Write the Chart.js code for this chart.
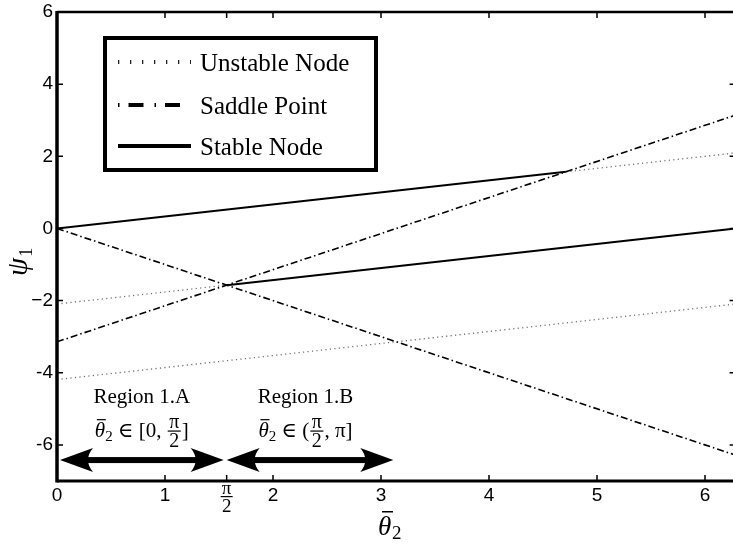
<!DOCTYPE html>
<html>
<head>
<meta charset="utf-8">
<script src="https://cdn.jsdelivr.net/npm/chart.js@4.4.1/dist/chart.umd.min.js"></script>
<style>
  html, body { margin: 0; padding: 0; background: #fff; overflow: hidden; width: 733px; height: 544px; }
  #wrap { width: 737px; height: 544px; }
</style>
</head>
<body>
<div id="wrap"><canvas id="chart" width="737" height="544"></canvas></div>
<script>
const X_MIN = 0, X_MAX = 6.2832, Y_MIN = -7, Y_MAX = 6;
const xTicks = [0, 1, 2, 3, 4, 5, 6];
const xTickLabels = ['0', '1', '2', '3', '4', '5', '6'];
const piHalfTick = 1.5708;
const yTicks = [-6, -4, -2, 0, 2, 4, 6];
const yTickLabels = ['-6', '-4', '\u22122', '0', '2', '4', '6'];

// stable node branches
const stableA = [[0, 0], [4.712, 1.571]];
const stableB = [[1.571, -1.571], [6.283, 0]];
// saddle point branches
const saddleA = [[0, -3.142], [6.283, 3.142]];
const saddleB = [[0, 0], [6.283, -6.283]];
// unstable node branches
const unstableA = [[0, -2.094], [1.571, -1.571]];
const unstableB = [[4.712, 1.571], [6.283, 2.094]];
const unstableC = [[0, -4.189], [6.283, -2.094]];

const regionNames = ['Region 1.A', 'Region 1.B'];
const regionStart = [0, 1.5708];
const regionEnd = [1.5708, 3.1416];
const arrowLevel = -6.42;

const SERIF = '"Liberation Serif", "DejaVu Serif", serif';
const SANS = '"Liberation Sans", Arial, sans-serif';

const solidStyle = { borderColor: '#000', borderWidth: 2 };
const saddleStyle = { borderColor: '#000', borderWidth: 1.6, borderDash: [7, 3, 1.5, 3] };
const unstableStyle = { borderColor: '#6e6e6e', borderWidth: 1.3, borderDash: [1.2, 3.3] };

function seg(points, style) {
  return Object.assign({
    data: points.map(p => ({ x: p[0], y: p[1] })),
    showLine: true, pointRadius: 0, fill: false, tension: 0,
  }, style);
}

function partWidth(ctx, p) {
  ctx.font = p.font;
  if (p.frac) return Math.max(ctx.measureText(p.frac[0]).width, ctx.measureText(p.frac[1]).width) + 5;
  return ctx.measureText(p.t).width;
}

function drawRun(ctx, parts, cx, base) {
  let total = 0;
  parts.forEach(p => { total += partWidth(ctx, p); });
  let x = cx - total / 2;
  ctx.textBaseline = 'alphabetic';
  parts.forEach(p => {
    const w = partWidth(ctx, p);
    ctx.font = p.font;
    if (p.frac) {
      const mid = x + w / 2;
      const axis = base - 6;
      ctx.textAlign = 'center';
      ctx.fillText(p.frac[0], mid, axis - 3);
      ctx.fillText(p.frac[1], mid, axis + 16);
      ctx.fillRect(x + 1, axis - 0.6, w - 2, 1.2);
    } else {
      ctx.textAlign = 'left';
      ctx.fillText(p.t, x, base + (p.dy || 0));
      if (p.bar) ctx.fillRect(x + p.bar[0], base - p.bar[1], p.bar[2], 1.2);
    }
    x += w;
  });
}

function arrowHead(ctx, tipX, y, dir) {
  const L = 33, H = 12, notch = 10;
  ctx.beginPath();
  ctx.moveTo(tipX, y);
  ctx.lineTo(tipX - dir * L, y - H);
  ctx.quadraticCurveTo(tipX - dir * (L - notch), y, tipX - dir * L, y + H);
  ctx.closePath();
  ctx.fill();
}

const decor = {
  id: 'decor',
  afterDraw(chart) {
    const { ctx, chartArea: a, scales: { x, y } } = chart;
    ctx.save();
    ctx.fillStyle = '#000';
    ctx.strokeStyle = '#000';

    // region arrows
    const ay = y.getPixelForValue(arrowLevel);
    regionStart.forEach((s, i) => {
      const x0 = x.getPixelForValue(s) + (i === 0 ? 3 : 0);
      const x1 = x.getPixelForValue(regionEnd[i]) - 3;
      ctx.fillRect(x0 + 24, ay - 3, x1 - x0 - 48, 6);
      arrowHead(ctx, x0, ay, -1);
      arrowHead(ctx, x1, ay, 1);
    });

    // region labels
    regionNames.forEach((name, i) => {
      const cx = (x.getPixelForValue(regionStart[i]) + x.getPixelForValue(regionEnd[i])) / 2 - (i === 1 ? 6 : 0);
      ctx.font = `21px ${SERIF}`;
      ctx.textAlign = 'center';
      ctx.textBaseline = 'alphabetic';
      ctx.fillText(name, cx, ay - 57);
      const base = ay - 23;
      const f = `21px ${SERIF}`;
      const parts = [
        { t: '\u03b8', font: `italic 21px ${SERIF}`, bar: [2, 18, 9] },
        { t: '2', font: `15px ${SERIF}`, dy: 4 },
        { t: ' \u2208 ' + (i === 0 ? '[0, ' : '('), font: f },
        { frac: ['\u03c0', '2'], font: `20px ${SERIF}` },
        { t: i === 0 ? ']' : ', \u03c0]', font: f },
      ];
      drawRun(ctx, parts, cx, base);
    });

    // legend
    const lx = 105, ly = 38, lw = 271, lh = 132;
    ctx.fillStyle = '#fff';
    ctx.fillRect(lx, ly, lw, lh);
    ctx.lineWidth = 4;
    ctx.strokeRect(lx, ly, lw, lh);
    ctx.fillStyle = '#000';
    const rows = [
      { label: 'Unstable Node', y: 62, width: 4, dash: [1.3, 10.7], color: '#222' },
      { label: 'Saddle Point', y: 105, width: 4, dash: [1.5, 9, 15, 11], color: '#000' },
      { label: 'Stable Node', y: 146, width: 4, dash: [], color: '#000' },
    ];
    rows.forEach(r => {
      ctx.beginPath();
      ctx.lineWidth = r.width;
      ctx.strokeStyle = r.color;
      ctx.setLineDash(r.dash);
      ctx.moveTo(118, r.y);
      ctx.lineTo(191, r.y);
      ctx.stroke();
      ctx.setLineDash([]);
      ctx.font = `25px ${SERIF}`;
      ctx.textAlign = 'left';
      ctx.textBaseline = 'alphabetic';
      ctx.fillText(r.label, 200, r.y + 9);
    });
    ctx.strokeStyle = '#000';

    // inward ticks
    ctx.lineWidth = 1.5;
    ctx.beginPath();
    xTicks.concat([piHalfTick]).forEach(v => {
      const px = x.getPixelForValue(v);
      ctx.moveTo(px, a.bottom); ctx.lineTo(px, a.bottom - 6);
      ctx.moveTo(px, a.top); ctx.lineTo(px, a.top + 6);
    });
    yTicks.forEach(v => {
      const py = y.getPixelForValue(v);
      ctx.moveTo(a.left, py); ctx.lineTo(a.left + 6, py);
      ctx.moveTo(a.right, py); ctx.lineTo(a.right - 6, py);
    });
    ctx.stroke();

    // frame
    ctx.lineWidth = 3.5;
    ctx.beginPath();
    ctx.moveTo(a.left, a.top - 1); ctx.lineTo(a.left, a.bottom + 1.5);
    ctx.stroke();
    ctx.lineWidth = 3;
    ctx.beginPath();
    ctx.moveTo(a.left, a.bottom); ctx.lineTo(a.right, a.bottom);
    ctx.moveTo(a.right, a.bottom); ctx.lineTo(a.right, a.top);
    ctx.stroke();
    ctx.lineWidth = 2.5;
    ctx.beginPath();
    ctx.moveTo(a.left, a.top); ctx.lineTo(a.right, a.top);
    ctx.stroke();

    // tick labels
    ctx.font = `19px ${SANS}`;
    ctx.textAlign = 'center';
    ctx.textBaseline = 'top';
    xTicks.forEach((v, i) => ctx.fillText(xTickLabels[i], x.getPixelForValue(v), a.bottom + 5));
    const ph = x.getPixelForValue(piHalfTick);
    ctx.font = `19px ${SERIF}`;
    ctx.textBaseline = 'alphabetic';
    ctx.fillText('\u03c0', ph, a.bottom + 13);
    ctx.fillRect(ph - 6, a.bottom + 15, 12, 1.2);
    ctx.fillText('2', ph, a.bottom + 31);
    ctx.font = `19px ${SANS}`;
    ctx.textAlign = 'right';
    ctx.textBaseline = 'middle';
    yTicks.forEach((v, i) => ctx.fillText(yTickLabels[i], a.left - 4, y.getPixelForValue(v)));

    // axis titles
    ctx.textAlign = 'left';
    ctx.textBaseline = 'alphabetic';
    ctx.font = `italic 27px ${SERIF}`;
    ctx.fillText('\u03b8', 378, 535);
    ctx.fillRect(382, 511, 11, 1.5);
    ctx.font = `19px ${SERIF}`;
    ctx.fillText('2', 392, 539);

    ctx.save();
    ctx.translate(27, 276);
    ctx.rotate(-Math.PI / 2);
    ctx.font = `italic 29px ${SERIF}`;
    ctx.fillText('\u03c8', 0, 0);
    ctx.font = `19px ${SERIF}`;
    ctx.fillText('1', 19, 5);
    ctx.restore();

    ctx.restore();
  },
};

new Chart(document.getElementById('chart'), {
  type: 'scatter',
  data: {
    datasets: [
      seg(stableA, solidStyle),
      seg(stableB, solidStyle),
      seg(saddleA, saddleStyle),
      seg(saddleB, saddleStyle),
      seg(unstableA, unstableStyle),
      seg(unstableB, unstableStyle),
      seg(unstableC, unstableStyle),
    ],
  },
  options: {
    responsive: false,
    animation: false,
    events: [],
    layout: { padding: { left: 57, top: 12, right: 1.4, bottom: 63 } },
    scales: {
      x: { type: 'linear', min: X_MIN, max: X_MAX, display: false },
      y: { type: 'linear', min: Y_MIN, max: Y_MAX, display: false },
    },
    plugins: {
      legend: { display: false },
      tooltip: { enabled: false },
    },
  },
  plugins: [decor],
});
</script>
</body>
</html>
